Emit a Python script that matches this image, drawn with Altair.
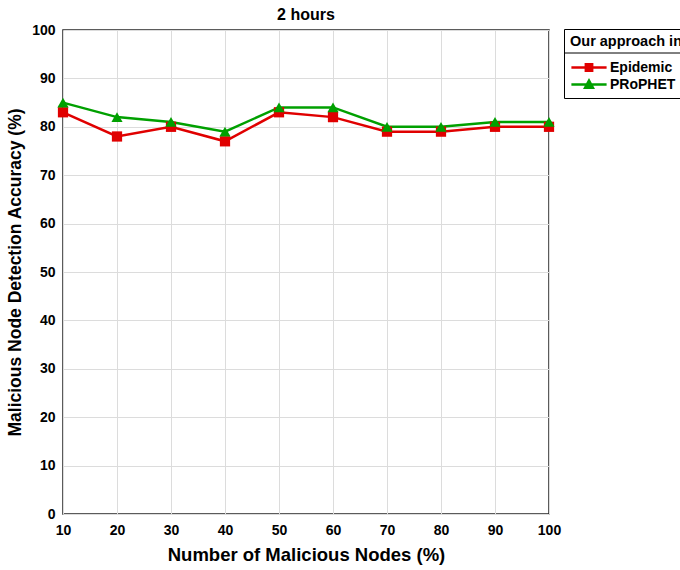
import altair as alt
import pandas as pd

# Detection accuracy (%) vs. share of malicious nodes (%), 2-hour runs
malicious_pct = [10, 20, 30, 40, 50, 60, 70, 80, 90, 100]
epidemic = [83, 78, 80, 77, 83, 82, 79, 79, 80, 80]
prophet = [85, 82, 81, 79, 84, 84, 80, 80, 81, 81]
series_names = ["Epidemic", "PRoPHET"]
series_colors = ["#e00000", "#00a000"]
x_ticks = malicious_pct
y_ticks = [0, 10, 20, 30, 40, 50, 60, 70, 80, 90, 100]

df = pd.concat([
    pd.DataFrame({"nodes": malicious_pct, "acc": epidemic, "protocol": series_names[0]}),
    pd.DataFrame({"nodes": malicious_pct, "acc": prophet, "protocol": series_names[1]}),
])

FONT = "Liberation Sans"

# Legend glyphs: a short line segment with the series marker on top
line_sq = "M-2.2,-0.16H2.2V0.16H-2.2Z M-0.55,-0.55H0.55V0.55H-0.55Z"
line_tri = "M-2.2,-0.16H2.2V0.16H-2.2Z M0,-0.8L0.75,0.55L-0.75,0.55Z"

x_enc = alt.X(
    "nodes:Q",
    scale=alt.Scale(domain=[10, 100], nice=False),
    axis=alt.Axis(values=x_ticks, title="Number of Malicious Nodes (%)", titlePadding=8,
                  titleFontSize=18.5, labelFlush=False, labelPadding=9),
)
y_enc = alt.Y(
    "acc:Q",
    scale=alt.Scale(domain=[0, 100], nice=False),
    axis=alt.Axis(values=y_ticks, title="Malicious Node Detection Accuracy (%)", titlePadding=7,
                  titleFontSize=17.5, labelPadding=8),
)
color_scale = alt.Scale(domain=series_names, range=series_colors)

legend_props = dict(
    title="Our approach in",
    orient="none",
    legendX=501,
    legendY=-1,
    strokeColor="#000000",
    padding=6,
    titleFont=FONT,
    titleFontSize=14.5,
    titleFontWeight="bold",
    titleColor="#000000",
    titlePadding=10,
    labelFont=FONT,
    labelFontSize=14,
    labelFontWeight="bold",
    labelColor="#000000",
    labelLimit=300,
    titleLimit=300,
    symbolSize=256,
    symbolOffset=11,
    symbolOpacity=1,
    symbolStrokeWidth=0,
    labelOffset=13,
    rowPadding=2,
)

lines = alt.Chart(df).mark_line(strokeWidth=2.5).encode(
    x=x_enc, y=y_enc,
    color=alt.Color("protocol:N", scale=color_scale, legend=None),
    detail="protocol:N",
)

marker_layers = []
for name, shape, size in zip(series_names, ["square", "triangle-up"], [105, 125]):
    marker_layers.append(
        alt.Chart(df)
        .transform_filter(alt.datum.protocol == name)
        .mark_point(filled=True, opacity=1, size=size, shape=shape)
        .encode(x=x_enc, y=y_enc, color=alt.Color("protocol:N", scale=color_scale, legend=None))
    )

# invisible layer that only carries the legend
legend_layer = alt.Chart(df).mark_point(filled=True, opacity=0).encode(
    x=x_enc,
    y=y_enc,
    color=alt.Color("protocol:N", scale=color_scale, legend=alt.Legend(**legend_props)),
    shape=alt.Shape(
        "protocol:N",
        scale=alt.Scale(domain=series_names, range=[line_sq, line_tri]),
        legend=alt.Legend(**legend_props),
    ),
)

# separator under the legend title
divider = alt.Chart(pd.DataFrame({"k": [0]})).mark_rule(color="#000000", strokeWidth=1, clip=False).encode(
    x=alt.value(501), x2=alt.value(640), y=alt.value(23)
)

chart = (
    alt.layer(lines, *marker_layers, legend_layer, divider)
    .resolve_scale(color="independent", shape="independent")
    .resolve_legend(color="independent", shape="independent")
    .properties(
        width=486,
        height=484,
        title=alt.Title("2 hours", font=FONT, fontSize=16, fontWeight="bold", color="#000000",
                        offset=8, frame="group", dy=8),
        padding={"left": 63, "top": 30, "right": 131, "bottom": 56},
        autosize=alt.AutoSizeParams(type="none"),
    )
    .configure_view(stroke="#262626", strokeWidth=1.5)
    .configure_axis(
        grid=True,
        gridColor="#dcdcdc",
        gridWidth=1,
        domain=False,
        ticks=False,
        labelFont=FONT,
        labelFontSize=14,
        labelFontWeight="bold",
        labelColor="#000000",
        titleFont=FONT,
        titleFontWeight="bold",
        titleColor="#000000",
    )
)

chart.save("out.html", embed_options={"renderer": "svg", "actions": False})
